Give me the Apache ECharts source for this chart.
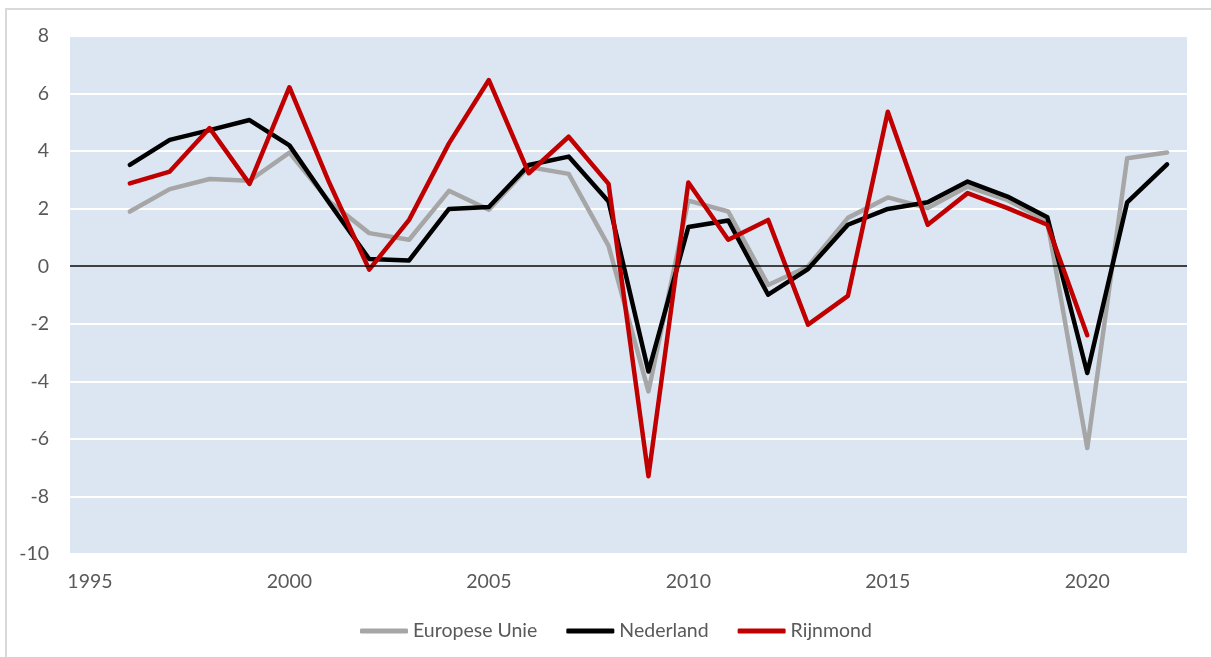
<!DOCTYPE html>
<html>
<head>
<meta charset="utf-8">
<script src="https://cdn.jsdelivr.net/npm/echarts@6/dist/echarts.min.js"></script>
<style>
  html, body { margin: 0; padding: 0; background: #fff; }
  #frame {
    position: absolute; left: 5px; top: 8px; width: 1220px; height: 660px;
    border-left: 2px solid #d9d9d9; border-top: 2px solid #d9d9d9;
  }
  #chart { position: absolute; left: 0; top: 0; width: 1211px; height: 657px; }
</style>
</head>
<body>
<div id="frame"></div>
<div id="chart"></div>
<script>
// jaren 1995 t/m 2022
const years = ["1995", "1996", "1997", "1998", "1999", "2000", "2001", "2002", "2003", "2004",
  "2005", "2006", "2007", "2008", "2009", "2010", "2011", "2012", "2013", "2014",
  "2015", "2016", "2017", "2018", "2019", "2020", "2021", "2022"];

// groei in procenten
const europeseUnie = ["-", 1.9, 2.68, 3.03, 2.97, 3.95, 2.25, 1.15, 0.92, 2.62,
  1.96, 3.45, 3.21, 0.71, -4.35, 2.28, 1.9, -0.65, -0.01, 1.68,
  2.39, 2.02, 2.77, 2.3, 1.55, -6.32, 3.75, 3.95];
const nederland = ["-", 3.52, 4.39, 4.73, 5.08, 4.2, 2.2, 0.25, 0.2, 1.99,
  2.06, 3.52, 3.81, 2.25, -3.66, 1.36, 1.59, -0.99, -0.1, 1.44,
  1.99, 2.22, 2.94, 2.42, 1.7, -3.71, 2.22, 3.54];
const rijnmond = ["-", 2.88, 3.29, 4.8, 2.86, 6.22, 2.9, -0.12, 1.61, 4.27,
  6.47, 3.23, 4.5, 2.86, -7.3, 2.91, 0.92, 1.61, -2.03, -1.03,
  5.37, 1.44, 2.54, 2.02, 1.44, -2.4, "-", "-"];

const yTicks = { min: -10, max: 8, interval: 2 };

const font = "Lato, 'Liberation Sans', sans-serif";

const chart = echarts.init(document.getElementById("chart"));
chart.setOption({
  animation: false,
  grid: {
    left: 70, right: 24, top: 36, bottom: 103,
    show: true, backgroundColor: "#dce6f2", borderWidth: 0
  },
  legend: {
    left: 355, top: 616,
    itemWidth: 48, itemHeight: 5, itemGap: 29,
    icon: "roundRect",
    textStyle: { color: "#595959", fontSize: 19.5, fontFamily: font },
    data: ["Europese Unie", "Nederland", "Rijnmond"]
  },
  xAxis: {
    type: "category",
    data: years,
    boundaryGap: true,
    axisLine: { show: false },
    axisTick: { show: false },
    splitLine: { show: false },
    axisLabel: {
      interval: 4, margin: 18,
      color: "#595959", fontSize: 19.5, fontFamily: font
    }
  },
  yAxis: {
    type: "value",
    min: yTicks.min, max: yTicks.max, interval: yTicks.interval,
    axisLine: { show: false },
    axisTick: { show: false },
    splitLine: { lineStyle: { color: "#ffffff", width: 2 } },
    axisLabel: { margin: 21, color: "#595959", fontSize: 19.5, fontFamily: font }
  },
  series: [
    {
      name: "Europese Unie", type: "line", data: europeseUnie,
      showSymbol: false, symbol: "none",
      lineStyle: { color: "#a6a6a6", width: 4.5, cap: "round", join: "round" },
      itemStyle: { color: "#a6a6a6" },
      markLine: {
        silent: true, symbol: "none", label: { show: false },
        lineStyle: { color: "#000", width: 1.5, type: "solid" },
        data: [{ yAxis: 0 }]
      }
    },
    {
      name: "Nederland", type: "line", data: nederland,
      showSymbol: false, symbol: "none",
      lineStyle: { color: "#000000", width: 4.5, cap: "round", join: "round" },
      itemStyle: { color: "#000000" }
    },
    {
      name: "Rijnmond", type: "line", data: rijnmond,
      showSymbol: false, symbol: "none",
      lineStyle: { color: "#c00000", width: 4.5, cap: "round", join: "round" },
      itemStyle: { color: "#c00000" }
    }
  ]
});
</script>
</body>
</html>
